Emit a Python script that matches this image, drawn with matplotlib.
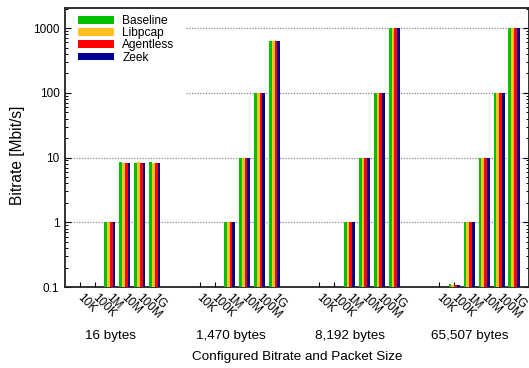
import matplotlib
matplotlib.use("Agg")
import matplotlib.pyplot as plt
import matplotlib.transforms as mtransforms
from matplotlib.patches import Rectangle
from matplotlib.ticker import FixedLocator, NullFormatter, LogLocator

# ---- data -------------------------------------------------------------
packet_sizes = ["16 bytes", "1,470 bytes", "8,192 bytes", "65,507 bytes"]
bitrates = ["10K", "100K", "1M", "10M", "100M", "1G"]
series_names = ["Baseline", "Libpcap", "Agentless", "Zeek"]
series_colors = ["#00c000", "#ffc020", "#ff0000", "#000090"]

# achieved bitrate in Mbit/s: one row per packet size, one column per configured bitrate
baseline = [
    [0.01, 0.1, 1.0, 8.4, 8.2, 8.4],
    [0.01, 0.1, 1.0, 10.0, 100.0, 630.0],
    [0.01, 0.1, 1.0, 10.0, 100.0, 1000.0],
    [0.01, 0.111, 1.0, 10.0, 100.0, 1000.0],
]
libpcap = [
    [0.01, 0.1, 1.0, 8.2, 8.4, 8.2],
    [0.01, 0.1, 1.0, 10.0, 100.0, 630.0],
    [0.01, 0.1, 1.0, 10.0, 100.0, 1000.0],
    [0.01, 0.109, 1.0, 10.0, 100.0, 1000.0],
]
agentless = [
    [0.01, 0.1, 1.0, 8.2, 8.2, 8.2],
    [0.01, 0.1, 1.0, 10.0, 100.0, 630.0],
    [0.01, 0.1, 1.0, 10.0, 100.0, 1000.0],
    [0.01, 0.107, 1.0, 10.0, 100.0, 1000.0],
]
zeek = [
    [0.01, 0.1, 1.0, 8.2, 8.2, 8.2],
    [0.01, 0.1, 1.0, 10.0, 100.0, 630.0],
    [0.01, 0.1, 1.0, 10.0, 100.0, 1000.0],
    [0.01, 0.107, 1.0, 10.0, 100.0, 1000.0],
]
all_series = [baseline, libpcap, agentless, zeek]

# ---- layout -----------------------------------------------------------
plt.rcParams["font.family"] = ["Liberation Sans", "DejaVu Sans"]

fig = plt.figure(figsize=(5.29, 3.68), dpi=100)
ax = fig.add_axes([65 / 529, 81 / 368, 464 / 529, 279 / 368])

slots_per_group = len(bitrates) + 2
bar_w = 0.185
positions = []
for g in range(len(packet_sizes)):
    for k in range(len(bitrates)):
        positions.append(g * slots_per_group + k)

for s, (name, color, data) in enumerate(zip(series_names, series_colors, all_series)):
    xs, hs = [], []
    for g in range(len(packet_sizes)):
        for k in range(len(bitrates)):
            xs.append(g * slots_per_group + k + (s - 1.5) * bar_w)
            hs.append(data[g][k])
    ax.bar(xs, hs, width=bar_w, color=color, edgecolor="none",
           label=name, zorder=3, log=True)

ax.set_yscale("log")
ax.set_ylim(0.1, 2040)
ax.set_xlim(-1, len(packet_sizes) * slots_per_group - 2)

# dotted horizontal grid, masked behind the key area
for y in [1, 10, 100, 1000]:
    ax.axhline(y, color="#888888", lw=0.9, ls=(0, (1, 1.2)), zorder=0.5)
ax.add_patch(Rectangle((0, 0.62), 0.259, 0.38, transform=ax.transAxes,
                       facecolor="white", edgecolor="none", zorder=1))

# y ticks
ax.yaxis.set_major_locator(FixedLocator([0.1, 1, 10, 100, 1000]))
ax.set_yticklabels(["0.1", "1", "10", "100", "1000"])
ax.yaxis.set_minor_locator(LogLocator(base=10, subs=range(2, 10), numticks=20))
ax.yaxis.set_minor_formatter(NullFormatter())
ax.tick_params(axis="y", which="both", direction="in", left=True, right=True,
               labelsize=8.5, color="black")
ax.tick_params(axis="y", which="major", length=4, width=0.8, pad=4)
ax.tick_params(axis="y", which="minor", length=2.2, width=0.7)

# x ticks: one per configured bitrate, rotated labels
ax.set_xticks(positions)
ax.set_xticklabels(bitrates * len(packet_sizes), rotation=-45,
                   ha="left", va="top", rotation_mode="anchor")
ax.tick_params(axis="x", which="both", direction="in", bottom=True, top=False,
               length=3.5, width=0.8, labelsize=8.5, pad=3)
shift = mtransforms.ScaledTranslation(3 / 100, 0, fig.dpi_scale_trans)
for lbl in ax.get_xticklabels():
    lbl.set_transform(lbl.get_transform() + shift)

for spine in ax.spines.values():
    spine.set_linewidth(1.3)
    spine.set_color("#222222")

# group labels under each cluster
for g, name in enumerate(packet_sizes):
    xc = g * slots_per_group + (len(bitrates) - 1) / 2 - 0.45
    ax.text(xc, -49 / 279, name, transform=ax.get_xaxis_transform(),
            ha="center", va="center", fontsize=9.7)

ax.text(0.5, -70 / 279, "Configured Bitrate and Packet Size",
        transform=ax.transAxes, ha="center", va="center", fontsize=9.7)
fig.text(17.5 / 529, 1 - 155 / 368, "Bitrate [Mbit/s]", rotation=90,
         ha="center", va="center", fontsize=11.2)

leg = ax.legend(loc="upper left", bbox_to_anchor=(13 / 464, 1 - 7 / 279),
                frameon=False, fontsize=8.6, handlelength=3.0, handleheight=0.6,
                handletextpad=0.7, labelspacing=0.02, borderpad=0,
                borderaxespad=0)
leg.set_zorder(5)

fig.savefig("out.png", dpi=100)
